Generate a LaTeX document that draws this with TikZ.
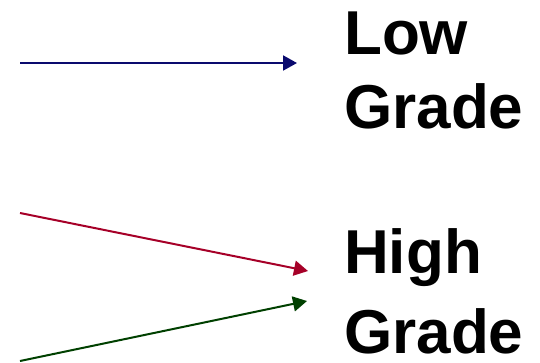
\documentclass[tikz,border=0pt]{standalone}
\usepackage{fontspec}
\setmainfont{Liberation Sans}
\usetikzlibrary{arrows.meta}
\definecolor{arrblue}{RGB}{10,10,110}
\definecolor{arrred}{RGB}{166,0,40}
\definecolor{arrgreen}{RGB}{0,64,0}
\tikzset{
  conn/.style={line width=2pt,-{Triangle[length=14pt,width=15pt]}},
  lbl/.style={anchor=base west,inner sep=0pt,text depth=0pt,font=\fontsize{62}{72}\selectfont\bfseries}
}
\begin{document}
\begin{tikzpicture}[x=1pt,y=-1pt]
\useasboundingbox (0,0) rectangle (540,362);
\node[lbl] (lowA) at (344,54) {Low};
\node[lbl] (lowB) at (344,128) {Grade};
\node[lbl] (highA) at (344,273) {High};
\node[lbl] (highB) at (344,353) {Grade};
\coordinate (b1) at (20,63);
\coordinate (b2) at (297,63);
\coordinate (r1) at (20,213);
\coordinate (r2) at (308,271);
\coordinate (g1) at (20,361);
\coordinate (g2) at (307,301);
\draw[conn,arrblue] (b1) -- (b2);
\draw[conn,arrred] (r1) -- (r2);
\draw[conn,arrgreen] (g1) -- (g2);
\end{tikzpicture}
\end{document}
